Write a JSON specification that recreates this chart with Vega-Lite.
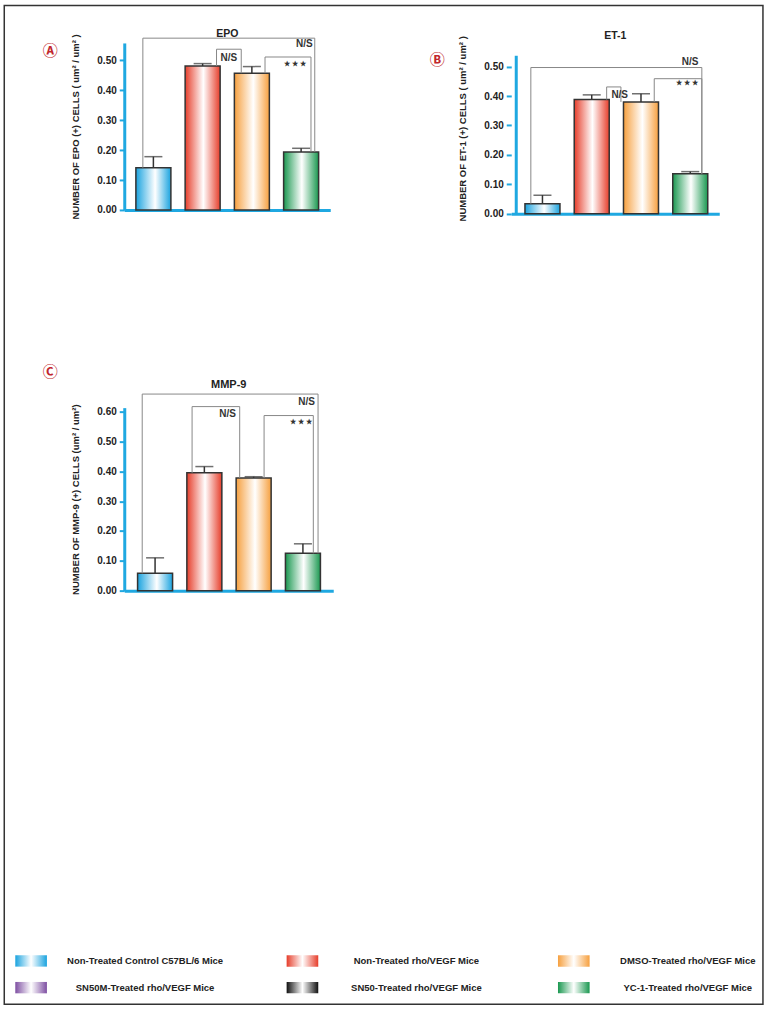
{
  "$schema": "https://vega.github.io/schema/vega-lite/v6.json",
  "padding": {"left": 3.25, "top": 3.95, "right": 2, "bottom": 2},
  "background": "white",
  "datasets": {
    "bars": [
      {"panel": "EPO", "group": "Non-Treated Control C57BL/6 Mice", "pos": 1, "mean": 0.141, "upper": 0.178},
      {"panel": "EPO", "group": "Non-Treated rho/VEGF Mice", "pos": 2, "mean": 0.481, "upper": 0.489},
      {"panel": "EPO", "group": "DMSO-Treated rho/VEGF Mice", "pos": 3, "mean": 0.457, "upper": 0.479},
      {"panel": "EPO", "group": "YC-1-Treated rho/VEGF Mice", "pos": 4, "mean": 0.194, "upper": 0.206},
      {"panel": "ET-1", "group": "Non-Treated Control C57BL/6 Mice", "pos": 1, "mean": 0.034, "upper": 0.063},
      {"panel": "ET-1", "group": "Non-Treated rho/VEGF Mice", "pos": 2, "mean": 0.388, "upper": 0.404},
      {"panel": "ET-1", "group": "DMSO-Treated rho/VEGF Mice", "pos": 3, "mean": 0.38, "upper": 0.408},
      {"panel": "ET-1", "group": "YC-1-Treated rho/VEGF Mice", "pos": 4, "mean": 0.136, "upper": 0.143},
      {"panel": "MMP-9", "group": "Non-Treated Control C57BL/6 Mice", "pos": 1, "mean": 0.058, "upper": 0.11},
      {"panel": "MMP-9", "group": "Non-Treated rho/VEGF Mice", "pos": 2, "mean": 0.395, "upper": 0.416},
      {"panel": "MMP-9", "group": "DMSO-Treated rho/VEGF Mice", "pos": 3, "mean": 0.378, "upper": 0.382},
      {"panel": "MMP-9", "group": "YC-1-Treated rho/VEGF Mice", "pos": 4, "mean": 0.125, "upper": 0.157}
    ],
    "brackets": [
      {"panel": "EPO", "x1": 0.786, "x2": 4.277, "top": 0.574, "left": 0.141, "right": 0.194},
      {"panel": "EPO", "x1": 2.282, "x2": 2.784, "top": 0.537, "left": 0.481, "right": 0.457},
      {"panel": "EPO", "x1": 3.267, "x2": 4.2, "top": 0.511, "left": 0.457, "right": 0.194},
      {"panel": "ET-1", "x1": 0.764, "x2": 4.235, "top": 0.497, "left": 0.034, "right": 0.136},
      {"panel": "ET-1", "x1": 2.303, "x2": 2.593, "top": 0.431, "left": 0.388, "right": 0.38},
      {"panel": "ET-1", "x1": 3.269, "x2": 4.235, "top": 0.459, "left": 0.38, "right": 0.136},
      {"panel": "MMP-9", "x1": 0.739, "x2": 4.307, "top": 0.659, "left": 0.058, "right": 0.125},
      {"panel": "MMP-9", "x1": 1.751, "x2": 2.717, "top": 0.617, "left": 0.395, "right": 0.378},
      {"panel": "MMP-9", "x1": 3.212, "x2": 4.211, "top": 0.587, "left": 0.378, "right": 0.125}
    ],
    "notes": [
      {"panel": "EPO", "x": 4.065, "y": 0.555, "text": "N/S"},
      {"panel": "EPO", "x": 2.533, "y": 0.509, "text": "N/S"},
      {"panel": "EPO", "x": 3.872, "y": 0.488, "text": "★ ★ ★"},
      {"panel": "ET-1", "x": 3.998, "y": 0.517, "text": "N/S"},
      {"panel": "ET-1", "x": 2.568, "y": 0.404, "text": "N/S"},
      {"panel": "ET-1", "x": 3.926, "y": 0.4435, "text": "★ ★ ★"},
      {"panel": "MMP-9", "x": 4.075, "y": 0.634, "text": "N/S"},
      {"panel": "MMP-9", "x": 2.472, "y": 0.593, "text": "N/S"},
      {"panel": "MMP-9", "x": 3.959, "y": 0.564, "text": "★ ★ ★"}
    ],
    "tags": [
      {"panel": "EPO", "x": -1.094, "y": 0.531, "text": "Ⓐ"},
      {"panel": "ET-1", "x": -1.136, "y": 0.523, "text": "Ⓑ"},
      {"panel": "MMP-9", "x": -1.128, "y": 0.732, "text": "Ⓒ"}
    ],
    "legend": [
      {"group": "Non-Treated Control C57BL/6 Mice", "col": 1, "row": 1},
      {"group": "Non-Treated rho/VEGF Mice", "col": 2, "row": 1},
      {"group": "DMSO-Treated rho/VEGF Mice", "col": 3, "row": 1},
      {"group": "SN50M-Treated rho/VEGF Mice", "col": 1, "row": 2},
      {"group": "SN50-Treated rho/VEGF Mice", "col": 2, "row": 2},
      {"group": "YC-1-Treated rho/VEGF Mice", "col": 3, "row": 2}
    ],
    "frame": [
      {"left": 0.9011, "right": 3.6971, "top": -34.779, "bottom": 2.6218}
    ]
  },
  "bounds": "flush",
  "spacing": 898,
  "vconcat": [
    {
      "columns": 2,
      "align": "each",
      "bounds": "full",
      "spacing": {"row": 142.7, "column": 96},
      "concat": [
        {
          "width": 206,
          "height": 167,
          "title": {"text": "EPO", "fontSize": 10.5, "offset": -15.4, "baseline": "bottom"},
          "layer": [
            {
              "data": {"name": "bars"},
              "transform": [{"filter": {"field": "panel", "equal": "EPO"}}],
              "mark": {"type": "rule", "color": "#333333", "strokeWidth": 1.5},
              "encoding": {
                "x": {"field": "pos", "type": "quantitative", "scale": {"domain": [0.51, 4.49], "nice": false, "zero": false}, "axis": {"title": null, "labels": false, "ticks": false}},
                "y": {"field": "mean", "type": "quantitative", "scale": {"domain": [0, 0.558], "nice": false, "zero": false}, "axis": {"title": "NUMBER OF EPO (+) CELLS ( um² / um² )", "values": [0, 0.1, 0.2, 0.3, 0.4, 0.5], "tickCount": 6, "labelOverlap": false, "format": ".2f", "titlePadding": 16, "labelPadding": 3}},
                "y2": {"field": "upper"}
              }
            },
            {
              "data": {"name": "bars"},
              "transform": [{"filter": {"field": "panel", "equal": "EPO"}}],
              "mark": {"type": "tick", "orient": "horizontal", "size": 18, "thickness": 1.5, "color": "#333333"},
              "encoding": {
                "x": {"field": "pos", "type": "quantitative"},
                "y": {"field": "upper", "type": "quantitative"}
              }
            },
            {
              "data": {"name": "bars"},
              "transform": [{"filter": {"field": "panel", "equal": "EPO"}}],
              "mark": {"type": "bar", "orient": "vertical", "width": 35, "stroke": "#333333", "strokeWidth": 1.5},
              "encoding": {
                "x": {"field": "pos", "type": "quantitative"},
                "y": {"field": "mean", "type": "quantitative"},
                "fill": {"condition": [
                  {"test": "datum.group === 'Non-Treated Control C57BL/6 Mice'", "value": {"gradient": "linear", "stops": [{"offset": 0, "color": "#1AA3DF"}, {"offset": 0.55, "color": "#ffffff"}, {"offset": 1, "color": "#1AA3DF"}]}},
                  {"test": "datum.group === 'Non-Treated rho/VEGF Mice'", "value": {"gradient": "linear", "stops": [{"offset": 0, "color": "#E63E2B"}, {"offset": 0.52, "color": "#ffffff"}, {"offset": 1, "color": "#E63E2B"}]}},
                  {"test": "datum.group === 'DMSO-Treated rho/VEGF Mice'", "value": {"gradient": "linear", "stops": [{"offset": 0, "color": "#F6A03F"}, {"offset": 0.54, "color": "#ffffff"}, {"offset": 1, "color": "#F6A03F"}]}}
                ], "value": {"gradient": "linear", "stops": [{"offset": 0, "color": "#1A9850"}, {"offset": 0.52, "color": "#ffffff"}, {"offset": 1, "color": "#1A9850"}]}}
              }
            },
            {
              "data": {"name": "brackets"},
              "transform": [{"filter": {"field": "panel", "equal": "EPO"}}],
              "mark": {"type": "rule", "color": "#888888", "strokeWidth": 1},
              "encoding": {
                "x": {"field": "x1", "type": "quantitative"},
                "y": {"field": "left", "type": "quantitative"},
                "y2": {"field": "top"}
              }
            },
            {
              "data": {"name": "brackets"},
              "transform": [{"filter": {"field": "panel", "equal": "EPO"}}],
              "mark": {"type": "rule", "color": "#888888", "strokeWidth": 1},
              "encoding": {
                "x": {"field": "x1", "type": "quantitative"},
                "x2": {"field": "x2"},
                "y": {"field": "top", "type": "quantitative"}
              }
            },
            {
              "data": {"name": "brackets"},
              "transform": [{"filter": {"field": "panel", "equal": "EPO"}}],
              "mark": {"type": "rule", "color": "#888888", "strokeWidth": 1},
              "encoding": {
                "x": {"field": "x2", "type": "quantitative"},
                "y": {"field": "right", "type": "quantitative"},
                "y2": {"field": "top"}
              }
            },
            {
              "data": {"name": "notes"},
              "transform": [{"filter": {"field": "panel", "equal": "EPO"}}],
              "mark": {"type": "text", "fontWeight": "bold", "color": "#333333", "baseline": "middle", "align": "center", "font": "Liberation Sans"},
              "encoding": {
                "x": {"field": "x", "type": "quantitative"},
                "y": {"field": "y", "type": "quantitative"},
                "text": {"field": "text"},
                "size": {"condition": {"test": "datum.text === 'N/S'", "value": 10}, "value": 7}
              }
            },
            {
              "data": {"name": "tags"},
              "transform": [{"filter": {"field": "panel", "equal": "EPO"}}],
              "mark": {"type": "text", "fontSize": 15, "fontWeight": "bold", "color": "#C1272D", "baseline": "middle", "align": "center", "font": "Noto Sans CJK JP"},
              "encoding": {
                "x": {"field": "x", "type": "quantitative"},
                "y": {"field": "y", "type": "quantitative"},
                "text": {"field": "text"}
              }
            }
          ]
        },
        {
          "width": 208,
          "height": 170.7,
          "title": {"text": "ET-1", "fontSize": 10.5, "offset": -16.2, "baseline": "bottom"},
          "layer": [
            {
              "data": {"name": "bars"},
              "transform": [{"filter": {"field": "panel", "equal": "ET-1"}}],
              "mark": {"type": "rule", "color": "#333333", "strokeWidth": 1.5},
              "encoding": {
                "x": {"field": "pos", "type": "quantitative", "scale": {"domain": [0.468, 4.487], "nice": false, "zero": false}, "axis": {"title": null, "labels": false, "ticks": false}},
                "y": {"field": "mean", "type": "quantitative", "scale": {"domain": [0, 0.5806], "nice": false, "zero": false}, "axis": {"title": "NUMBER OF ET-1 (+) CELLS ( um² / um² )", "values": [0, 0.1, 0.2, 0.3, 0.4, 0.5], "tickCount": 6, "labelOverlap": false, "domain": false, "format": ".2f", "titlePadding": 16, "labelPadding": 3}},
                "y2": {"field": "upper"}
              }
            },
            {
              "data": {"values": [{"from": 0, "to": 0.537}]},
              "mark": {"type": "rule", "color": "#1FA8E1", "strokeWidth": 3},
              "encoding": {
                "x": {"datum": 0.468, "type": "quantitative"},
                "y": {"field": "from", "type": "quantitative"},
                "y2": {"field": "to"}
              }
            },
            {
              "data": {"name": "bars"},
              "transform": [{"filter": {"field": "panel", "equal": "ET-1"}}],
              "mark": {"type": "tick", "orient": "horizontal", "size": 18, "thickness": 1.5, "color": "#333333"},
              "encoding": {
                "x": {"field": "pos", "type": "quantitative"},
                "y": {"field": "upper", "type": "quantitative"}
              }
            },
            {
              "data": {"name": "bars"},
              "transform": [{"filter": {"field": "panel", "equal": "ET-1"}}],
              "mark": {"type": "bar", "orient": "vertical", "width": 35, "stroke": "#333333", "strokeWidth": 1.5},
              "encoding": {
                "x": {"field": "pos", "type": "quantitative"},
                "y": {"field": "mean", "type": "quantitative"},
                "fill": {"condition": [
                  {"test": "datum.group === 'Non-Treated Control C57BL/6 Mice'", "value": {"gradient": "linear", "stops": [{"offset": 0, "color": "#1AA3DF"}, {"offset": 0.55, "color": "#ffffff"}, {"offset": 1, "color": "#1AA3DF"}]}},
                  {"test": "datum.group === 'Non-Treated rho/VEGF Mice'", "value": {"gradient": "linear", "stops": [{"offset": 0, "color": "#E63E2B"}, {"offset": 0.52, "color": "#ffffff"}, {"offset": 1, "color": "#E63E2B"}]}},
                  {"test": "datum.group === 'DMSO-Treated rho/VEGF Mice'", "value": {"gradient": "linear", "stops": [{"offset": 0, "color": "#F6A03F"}, {"offset": 0.54, "color": "#ffffff"}, {"offset": 1, "color": "#F6A03F"}]}}
                ], "value": {"gradient": "linear", "stops": [{"offset": 0, "color": "#1A9850"}, {"offset": 0.52, "color": "#ffffff"}, {"offset": 1, "color": "#1A9850"}]}}
              }
            },
            {
              "data": {"name": "brackets"},
              "transform": [{"filter": {"field": "panel", "equal": "ET-1"}}],
              "mark": {"type": "rule", "color": "#888888", "strokeWidth": 1},
              "encoding": {
                "x": {"field": "x1", "type": "quantitative"},
                "y": {"field": "left", "type": "quantitative"},
                "y2": {"field": "top"}
              }
            },
            {
              "data": {"name": "brackets"},
              "transform": [{"filter": {"field": "panel", "equal": "ET-1"}}],
              "mark": {"type": "rule", "color": "#888888", "strokeWidth": 1},
              "encoding": {
                "x": {"field": "x1", "type": "quantitative"},
                "x2": {"field": "x2"},
                "y": {"field": "top", "type": "quantitative"}
              }
            },
            {
              "data": {"name": "brackets"},
              "transform": [{"filter": {"field": "panel", "equal": "ET-1"}}],
              "mark": {"type": "rule", "color": "#888888", "strokeWidth": 1},
              "encoding": {
                "x": {"field": "x2", "type": "quantitative"},
                "y": {"field": "right", "type": "quantitative"},
                "y2": {"field": "top"}
              }
            },
            {
              "data": {"name": "notes"},
              "transform": [{"filter": {"field": "panel", "equal": "ET-1"}}],
              "mark": {"type": "text", "fontWeight": "bold", "color": "#333333", "baseline": "middle", "align": "center", "font": "Liberation Sans"},
              "encoding": {
                "x": {"field": "x", "type": "quantitative"},
                "y": {"field": "y", "type": "quantitative"},
                "text": {"field": "text"},
                "size": {"condition": {"test": "datum.text === 'N/S'", "value": 10}, "value": 7}
              }
            },
            {
              "data": {"name": "tags"},
              "transform": [{"filter": {"field": "panel", "equal": "ET-1"}}],
              "mark": {"type": "text", "fontSize": 15, "fontWeight": "bold", "color": "#C1272D", "baseline": "middle", "align": "center", "font": "Noto Sans CJK JP"},
              "encoding": {
                "x": {"field": "x", "type": "quantitative"},
                "y": {"field": "y", "type": "quantitative"},
                "text": {"field": "text"}
              }
            }
          ]
        },
        {
          "width": 209,
          "height": 183,
          "title": {"text": "MMP-9", "fontSize": 11, "offset": -35.3, "baseline": "bottom"},
          "layer": [
            {
              "data": {"name": "bars"},
              "transform": [{"filter": {"field": "panel", "equal": "MMP-9"}}],
              "mark": {"type": "rule", "color": "#333333", "strokeWidth": 1.5},
              "encoding": {
                "x": {"field": "pos", "type": "quantitative", "scale": {"domain": [0.476, 4.514], "nice": false, "zero": false}, "axis": {"title": null, "labels": false, "ticks": false}},
                "y": {"field": "mean", "type": "quantitative", "scale": {"domain": [0, 0.6135], "nice": false, "zero": false}, "axis": {"title": "NUMBER OF MMP-9 (+) CELLS  (um² / um²)", "values": [0, 0.1, 0.2, 0.3, 0.4, 0.5, 0.6], "tickCount": 7, "labelOverlap": false, "format": ".2f", "titlePadding": 16, "labelPadding": 3}},
                "y2": {"field": "upper"}
              }
            },
            {
              "data": {"name": "bars"},
              "transform": [{"filter": {"field": "panel", "equal": "MMP-9"}}],
              "mark": {"type": "tick", "orient": "horizontal", "size": 18, "thickness": 1.5, "color": "#333333"},
              "encoding": {
                "x": {"field": "pos", "type": "quantitative"},
                "y": {"field": "upper", "type": "quantitative"}
              }
            },
            {
              "data": {"name": "bars"},
              "transform": [{"filter": {"field": "panel", "equal": "MMP-9"}}],
              "mark": {"type": "bar", "orient": "vertical", "width": 35, "stroke": "#333333", "strokeWidth": 1.5},
              "encoding": {
                "x": {"field": "pos", "type": "quantitative"},
                "y": {"field": "mean", "type": "quantitative"},
                "fill": {"condition": [
                  {"test": "datum.group === 'Non-Treated Control C57BL/6 Mice'", "value": {"gradient": "linear", "stops": [{"offset": 0, "color": "#1AA3DF"}, {"offset": 0.55, "color": "#ffffff"}, {"offset": 1, "color": "#1AA3DF"}]}},
                  {"test": "datum.group === 'Non-Treated rho/VEGF Mice'", "value": {"gradient": "linear", "stops": [{"offset": 0, "color": "#E63E2B"}, {"offset": 0.52, "color": "#ffffff"}, {"offset": 1, "color": "#E63E2B"}]}},
                  {"test": "datum.group === 'DMSO-Treated rho/VEGF Mice'", "value": {"gradient": "linear", "stops": [{"offset": 0, "color": "#F6A03F"}, {"offset": 0.54, "color": "#ffffff"}, {"offset": 1, "color": "#F6A03F"}]}}
                ], "value": {"gradient": "linear", "stops": [{"offset": 0, "color": "#1A9850"}, {"offset": 0.52, "color": "#ffffff"}, {"offset": 1, "color": "#1A9850"}]}}
              }
            },
            {
              "data": {"name": "brackets"},
              "transform": [{"filter": {"field": "panel", "equal": "MMP-9"}}],
              "mark": {"type": "rule", "color": "#888888", "strokeWidth": 1},
              "encoding": {
                "x": {"field": "x1", "type": "quantitative"},
                "y": {"field": "left", "type": "quantitative"},
                "y2": {"field": "top"}
              }
            },
            {
              "data": {"name": "brackets"},
              "transform": [{"filter": {"field": "panel", "equal": "MMP-9"}}],
              "mark": {"type": "rule", "color": "#888888", "strokeWidth": 1},
              "encoding": {
                "x": {"field": "x1", "type": "quantitative"},
                "x2": {"field": "x2"},
                "y": {"field": "top", "type": "quantitative"}
              }
            },
            {
              "data": {"name": "brackets"},
              "transform": [{"filter": {"field": "panel", "equal": "MMP-9"}}],
              "mark": {"type": "rule", "color": "#888888", "strokeWidth": 1},
              "encoding": {
                "x": {"field": "x2", "type": "quantitative"},
                "y": {"field": "right", "type": "quantitative"},
                "y2": {"field": "top"}
              }
            },
            {
              "data": {"name": "notes"},
              "transform": [{"filter": {"field": "panel", "equal": "MMP-9"}}],
              "mark": {"type": "text", "fontWeight": "bold", "color": "#333333", "baseline": "middle", "align": "center", "font": "Liberation Sans"},
              "encoding": {
                "x": {"field": "x", "type": "quantitative"},
                "y": {"field": "y", "type": "quantitative"},
                "text": {"field": "text"},
                "size": {"condition": {"test": "datum.text === 'N/S'", "value": 10}, "value": 7}
              }
            },
            {
              "data": {"name": "tags"},
              "transform": [{"filter": {"field": "panel", "equal": "MMP-9"}}],
              "mark": {"type": "text", "fontSize": 15, "fontWeight": "bold", "color": "#C1272D", "baseline": "middle", "align": "center", "font": "Noto Sans CJK JP"},
              "encoding": {
                "x": {"field": "x", "type": "quantitative"},
                "y": {"field": "y", "type": "quantitative"},
                "text": {"field": "text"}
              }
            }
          ]
        }
      ]
    },
    {
      "width": 632,
      "height": 60,
      "layer": [
        {
          "data": {"name": "frame"},
          "mark": {"type": "rect", "fill": "transparent", "stroke": "#333333", "strokeWidth": 1.5},
          "encoding": {
            "x": {"field": "left", "type": "quantitative", "scale": {"domain": [1.3433, 3.6724], "nice": false, "zero": false}, "axis": null},
            "x2": {"field": "right"},
            "y": {"field": "top", "type": "quantitative", "scale": {"domain": [0.251, 2.498], "nice": false, "zero": false, "reverse": true}, "axis": null},
            "y2": {"field": "bottom"}
          }
        },
        {
          "data": {"name": "legend"},
          "mark": {"type": "point", "shape": "M-1,-0.36H1V0.36H-1Z", "filled": true, "size": 1000, "opacity": 1, "strokeWidth": 0},
          "encoding": {
            "x": {"field": "col", "type": "quantitative"},
            "y": {"field": "row", "type": "quantitative"},
            "fill": {"condition": [
              {"test": "datum.group === 'Non-Treated Control C57BL/6 Mice'", "value": {"gradient": "linear", "stops": [{"offset": 0, "color": "#1AA3DF"}, {"offset": 0.5, "color": "#ffffff"}, {"offset": 1, "color": "#1AA3DF"}]}},
              {"test": "datum.group === 'Non-Treated rho/VEGF Mice'", "value": {"gradient": "linear", "stops": [{"offset": 0, "color": "#E63E2B"}, {"offset": 0.5, "color": "#ffffff"}, {"offset": 1, "color": "#E63E2B"}]}},
              {"test": "datum.group === 'DMSO-Treated rho/VEGF Mice'", "value": {"gradient": "linear", "stops": [{"offset": 0, "color": "#F6A03F"}, {"offset": 0.5, "color": "#ffffff"}, {"offset": 1, "color": "#F6A03F"}]}},
              {"test": "datum.group === 'SN50M-Treated rho/VEGF Mice'", "value": {"gradient": "linear", "stops": [{"offset": 0, "color": "#7E4FA2"}, {"offset": 0.5, "color": "#ffffff"}, {"offset": 1, "color": "#7E4FA2"}]}},
              {"test": "datum.group === 'SN50-Treated rho/VEGF Mice'", "value": {"gradient": "linear", "stops": [{"offset": 0, "color": "#111111"}, {"offset": 0.5, "color": "#ffffff"}, {"offset": 1, "color": "#111111"}]}}
            ], "value": {"gradient": "linear", "stops": [{"offset": 0, "color": "#1A9850"}, {"offset": 0.5, "color": "#ffffff"}, {"offset": 1, "color": "#1A9850"}]}}
          }
        },
        {
          "data": {"name": "legend"},
          "mark": {"type": "text", "align": "center", "baseline": "middle", "dx": 114, "fontSize": 9.5, "fontWeight": "bold", "color": "#222222", "font": "Liberation Sans"},
          "encoding": {
            "x": {"field": "col", "type": "quantitative"},
            "y": {"field": "row", "type": "quantitative"},
            "text": {"field": "group"}
          }
        }
      ]
    }
  ],
  "config": {
    "view": {"stroke": null},
    "font": "Liberation Sans",
    "axis": {
      "grid": false,
      "labelFont": "Liberation Sans",
      "labelFontWeight": "bold",
      "labelFontSize": 10,
      "labelColor": "#222222",
      "labelOverlap": false,
      "titleFont": "Liberation Sans",
      "titleFontWeight": "bold",
      "titleFontSize": 9.5,
      "titleColor": "#222222",
      "domainColor": "#1FA8E1",
      "domainWidth": 3,
      "tickColor": "#1FA8E1",
      "tickWidth": 2,
      "tickSize": 5
    },
    "title": {"font": "Liberation Sans", "fontWeight": "bold", "color": "#222222", "anchor": "middle", "frame": "group"}
  }
}
